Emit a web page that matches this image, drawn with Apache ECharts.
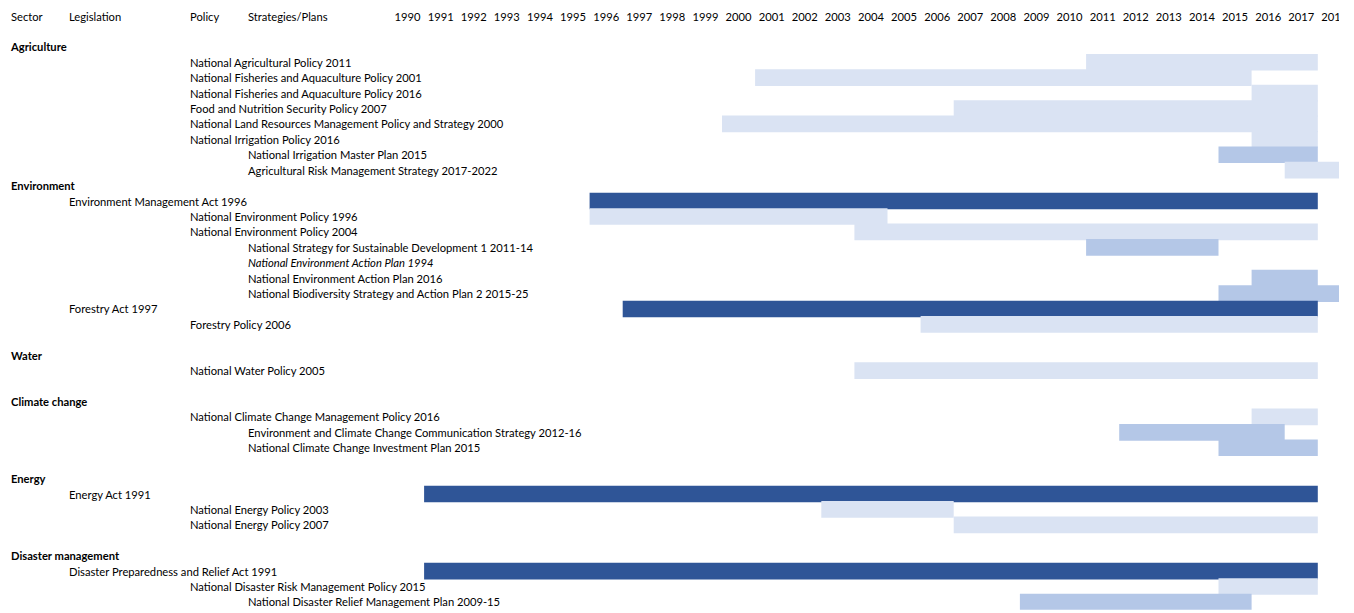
<!DOCTYPE html>
<html>
<head>
<meta charset="utf-8">
<script src="https://cdn.jsdelivr.net/npm/echarts@6/dist/echarts.min.js"></script>
<style>
  html, body { margin: 0; padding: 0; background: #fff; }
  #frame { position: absolute; left: 0; top: 0; width: 1339px; height: 613px; overflow: hidden; }
  #chart { width: 1400px; height: 613px; }
</style>
</head>
<body>
<div id="frame"><div id="chart"></div></div>
<script>
// Year columns along the top
const years = ['1990','1991','1992','1993','1994','1995','1996','1997','1998','1999',
  '2000','2001','2002','2003','2004','2005','2006','2007','2008','2009',
  '2010','2011','2012','2013','2014','2015','2016','2017','2018'];

// Column headings of the left-hand outline
const headerCols = ['Sector', 'Legislation', 'Policy', 'Strategies/Plans'];

// Outline rows (top to bottom) and their level in the outline
const rowNames = [
  '', '',
  'Agriculture',
  'National Agricultural Policy 2011',
  'National Fisheries and Aquaculture Policy 2001',
  'National Fisheries and Aquaculture Policy 2016',
  'Food and Nutrition Security Policy 2007',
  'National Land Resources Management Policy and Strategy 2000',
  'National Irrigation Policy 2016',
  'National Irrigation Master Plan 2015',
  'Agricultural Risk Management Strategy 2017-2022',
  'Environment',
  'Environment Management Act 1996',
  'National Environment Policy 1996',
  'National Environment Policy 2004',
  'National Strategy for Sustainable Development 1 2011-14',
  'National Environment Action Plan 1994',
  'National Environment Action Plan 2016',
  'National Biodiversity Strategy and Action Plan 2 2015-25',
  'Forestry Act 1997',
  'Forestry Policy 2006',
  '',
  'Water',
  'National Water Policy 2005',
  '',
  'Climate change',
  'National Climate Change Management Policy 2016',
  'Environment and Climate Change Communication Strategy 2012-16',
  'National Climate Change Investment Plan 2015',
  '',
  'Energy',
  'Energy Act 1991',
  'National Energy Policy 2003',
  'National Energy Policy 2007',
  '',
  'Disaster management',
  'Disaster Preparedness and Relief Act 1991',
  'National Disaster Risk Management Policy 2015',
  'National Disaster Relief Management Plan 2009-15'
];
const rowKinds = [
  'header', 'blank',
  'sector', 'policy', 'policy', 'policy', 'policy', 'policy', 'policy', 'plan', 'plan',
  'sector', 'law', 'policy', 'policy', 'plan', 'planItalic', 'plan', 'plan', 'law', 'policy',
  'blank',
  'sector', 'policy',
  'blank',
  'sector', 'policy', 'plan', 'plan',
  'blank',
  'sector', 'law', 'policy', 'policy',
  'blank',
  'sector', 'law', 'policy', 'plan'
];

// Timeline bars: row, first year, year after the last year shown, shade
const barRows = [
  'National Agricultural Policy 2011',
  'National Fisheries and Aquaculture Policy 2001',
  'National Fisheries and Aquaculture Policy 2016',
  'Food and Nutrition Security Policy 2007',
  'National Land Resources Management Policy and Strategy 2000',
  'National Irrigation Policy 2016',
  'National Irrigation Master Plan 2015',
  'Agricultural Risk Management Strategy 2017-2022',
  'Environment Management Act 1996',
  'National Environment Policy 1996',
  'National Environment Policy 2004',
  'National Strategy for Sustainable Development 1 2011-14',
  'National Environment Action Plan 2016',
  'National Biodiversity Strategy and Action Plan 2 2015-25',
  'Forestry Act 1997',
  'Forestry Policy 2006',
  'National Water Policy 2005',
  'National Climate Change Management Policy 2016',
  'Environment and Climate Change Communication Strategy 2012-16',
  'National Climate Change Investment Plan 2015',
  'Energy Act 1991',
  'National Energy Policy 2003',
  'National Energy Policy 2007',
  'Disaster Preparedness and Relief Act 1991',
  'National Disaster Risk Management Policy 2015',
  'National Disaster Relief Management Plan 2009-15'
];
const barStart = [2011, 2001, 2016, 2007, 2000, 2016, 2015, 2017, 1996, 1996, 2004, 2011, 2016, 2015,
  1997, 2006, 2004, 2016, 2012, 2015, 1991, 2003, 2007, 1991, 2015, 2009];
const barEnd = [2018, 2016, 2018, 2018, 2018, 2018, 2018, 2023, 2018, 2005, 2018, 2015, 2018, 2026,
  2018, 2018, 2018, 2018, 2017, 2018, 2018, 2007, 2018, 2018, 2018, 2016];
const barTone = ['light', 'light', 'light', 'light', 'light', 'light', 'mid', 'light', 'dark', 'light',
  'light', 'mid', 'mid', 'mid', 'dark', 'light', 'light', 'light', 'mid', 'mid', 'dark', 'light',
  'light', 'dark', 'light', 'mid'];

const toneColor = { dark: '#2F5597', mid: '#B4C7E7', light: '#DAE3F3' };
const FONT = 'Lato';
const FS = 11.2;

const barData = barRows.map((name, i) => ({
  value: [barStart[i], barEnd[i], rowNames.indexOf(name)],
  itemStyle: { color: toneColor[barTone[i]] }
}));

const chart = echarts.init(document.getElementById('chart'), null, { renderer: 'svg' });

const yearWidth = 33.1;
const rowH = 15.42;
const gridLeft = 391;
const gridTop = 16 - rowH / 2;

const txt = { fontFamily: FONT, fontSize: FS, color: '#000' };

chart.setOption({
  animation: false,
  backgroundColor: '#fff',
  textStyle: txt,
  grid: {
    left: gridLeft,
    top: gridTop,
    width: yearWidth * years.length,
    height: rowH * rowNames.length
  },
  xAxis: [
    {
      type: 'value', min: 1990, max: 1990 + years.length, show: false
    },
    {
      type: 'category', position: 'top', data: years, boundaryGap: true,
      axisLine: { show: false }, axisTick: { show: false }, splitLine: { show: false },
      axisLabel: Object.assign({ interval: 0, margin: -rowH / 2, verticalAlign: 'middle' }, txt)
    }
  ],
  yAxis: {
    type: 'category', inverse: true,
    data: rowNames.map((_, i) => String(i)),
    axisLine: { show: false }, axisTick: { show: false }, splitLine: { show: false },
    axisLabel: Object.assign({
      interval: 0, align: 'left', margin: gridLeft - 11,
      formatter: function (v, idx) {
        const kind = rowKinds[idx];
        const name = rowNames[idx];
        if (kind === 'header') {
          return '{h1|' + headerCols[0] + '}{h2|' + headerCols[1] + '}{h3|' + headerCols[2] + '}{h4|' + headerCols[3] + '}';
        }
        if (kind === 'blank') return '';
        return '{' + kind + '|' + name + '}';
      },
      rich: {
        h1: Object.assign({ width: 58 }, txt),
        h2: Object.assign({ width: 121 }, txt),
        h3: Object.assign({ width: 58 }, txt),
        h4: Object.assign({}, txt),
        sector: Object.assign({ fontWeight: 'bold' }, txt),
        law: Object.assign({ padding: [0, 0, 0, 58] }, txt),
        policy: Object.assign({ padding: [0, 0, 0, 179] }, txt),
        plan: Object.assign({ padding: [0, 0, 0, 237] }, txt),
        planItalic: Object.assign({ padding: [0, 0, 0, 237], fontStyle: 'italic' }, txt)
      }
    }, txt)
  },
  series: [{
    type: 'custom',
    xAxisIndex: 0,
    clip: true,
    encode: { x: [0, 1], y: 2 },
    renderItem: function (params, api) {
      const row = api.value(2);
      const p0 = api.coord([api.value(0), row]);
      const p1 = api.coord([api.value(1), row]);
      const h = api.size([0, 1])[1] * 1.08;
      return {
        type: 'rect',
        shape: { x: p0[0], y: p0[1] - h / 2, width: p1[0] - p0[0], height: h },
        style: api.style()
      };
    },
    data: barData
  }]
});
</script>
</body>
</html>
